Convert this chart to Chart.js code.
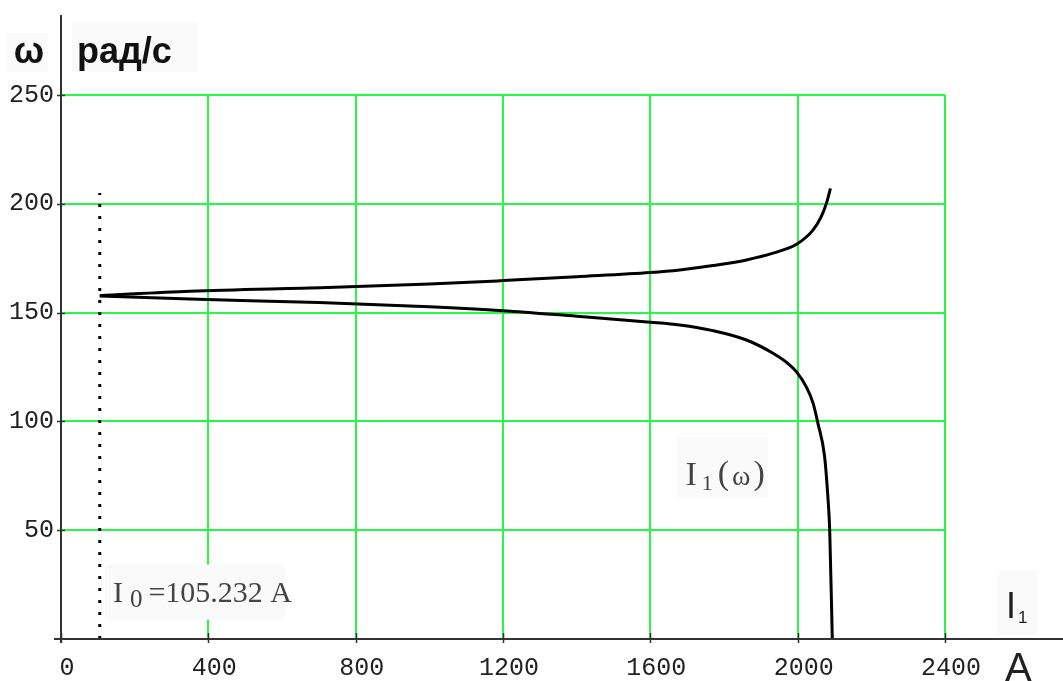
<!DOCTYPE html>
<html>
<head>
<meta charset="utf-8">
<script src="https://cdn.jsdelivr.net/npm/chart.js@4/dist/chart.umd.min.js"></script>
<style>
  html, body { margin: 0; padding: 0; background: #fff; }
  #wrap { width: 1063px; height: 681px; position: relative; }
</style>
</head>
<body>
<div id="wrap"><canvas id="chart"></canvas></div>
<script>
// no-load current, A
const I0 = 105.232;

// I1(ω): upper branch (generator side)
const upperI = [I0, 350, 720, 1000, 1200, 1400, 1600, 1680, 1770, 1861, 1933, 1998, 2042, 2064, 2078, 2089];
const upperW = [157.8, 159.8, 161.5, 163.1, 164.7, 166.5, 168.4, 169.6, 171.6, 174.2, 177.3, 181.5, 188, 194.1, 200.2, 207.1];

// I1(ω): lower branch (motor side)
const lowerI = [I0, 350, 700, 1000, 1200, 1400, 1600, 1680, 1770, 1861, 1933, 1978, 1998, 2023, 2042, 2055, 2073, 2082, 2087, 2094];
const lowerW = [157.6, 156.2, 154.6, 152.7, 150.9, 148.3, 145.6, 144.3, 141.7, 137.4, 131.3, 126, 122.5, 116, 108.3, 99.1, 84, 65.4, 50, 0];

// vertical marker at I0
const markerW = [0, 205];

const xTicks = [0, 400, 800, 1200, 1600, 2000, 2400];
const yTicks = [50, 100, 150, 200, 250];

const GRID = '#28f845';
const AXIS = '#333';
const BACK = '#fafafa';

const pts = (xs, ys) => xs.map((x, i) => ({ x: x, y: ys[i] }));

function drawRich(ctx, x, y, parts, color) {
    ctx.fillStyle = color;
    ctx.textAlign = 'left';
    ctx.textBaseline = 'alphabetic';
    for (const p of parts) {
        ctx.font = p.font;
        x += p.gap || 0;
        ctx.fillText(p.text, x, y + (p.dy || 0));
        x += ctx.measureText(p.text).width;
    }
}

// axes that run past the plot area, crossing tick marks and the text labels
const decor = {
    id: 'decor',
    afterDatasetsDraw(chart) {
        const ctx = chart.ctx;
        const xs = chart.scales.x, ys = chart.scales.y;
        const x0 = xs.getPixelForValue(0), y0 = ys.getPixelForValue(0);
        ctx.save();

        // label backdrops
        ctx.fillStyle = BACK;
        ctx.fillRect(7, 33, 41, 39);
        ctx.fillRect(72, 22, 125, 50);
        ctx.fillRect(997, 570, 40, 65);

        const ax = xs.getPixelForValue(141), ay = ys.getPixelForValue(17.2);
        ctx.fillRect(ax - 8, ay - 37, 180, 55);
        const bx = xs.getPixelForValue(1696), by = ys.getPixelForValue(70.8);
        ctx.fillRect(bx - 9, by - 48, 91, 61);

        // axes
        ctx.strokeStyle = AXIS;
        ctx.lineWidth = 2;
        ctx.beginPath();
        ctx.moveTo(x0 - 7, y0);
        ctx.lineTo(chart.width, y0);
        ctx.moveTo(x0, chart.chartArea.top - 80);
        ctx.lineTo(x0, y0 + 4);
        ctx.stroke();

        ctx.lineWidth = 1.5;
        ctx.beginPath();
        xTicks.forEach(v => {
            const p = Math.round(xs.getPixelForValue(v)) + 0.5;
            ctx.moveTo(p, y0 - 6);
            ctx.lineTo(p, y0 + 4);
        });
        yTicks.forEach(v => {
            const p = Math.round(ys.getPixelForValue(v)) + 0.5;
            ctx.moveTo(x0 - 4, p);
            ctx.lineTo(x0 + 4, p);
        });
        ctx.stroke();

        // axis titles
        ctx.fillStyle = '#111';
        ctx.textBaseline = 'alphabetic';
        ctx.textAlign = 'center';
        ctx.font = 'bold 36px "Liberation Sans"';
        ctx.fillText('ω', 29, 63);
        ctx.textAlign = 'left';
        ctx.fillText('рад/с', 77, 63);

        drawRich(ctx, 1006, 618, [
            { text: 'I', font: '36px "Liberation Sans"' },
            { text: '1', font: '17px "Liberation Sans"', dy: 5, gap: 2 }
        ], '#222');
        ctx.fillStyle = '#222';
        ctx.font = '40px "Liberation Sans"';
        ctx.fillText('A', 1005, 681);

        // curve annotations
        drawRich(ctx, ax, ay, [
            { text: 'I', font: '30px "Liberation Serif"' },
            { text: '0', font: '25px "Liberation Serif"', dy: 5, gap: 7 },
            { text: '=' + I0 + ' A', font: '30px "Liberation Serif"', gap: 6 }
        ], '#444');

        drawRich(ctx, bx, by, [
            { text: 'I', font: '33px "Liberation Serif"' },
            { text: '1', font: '22px "Liberation Serif"', dy: 5, gap: 5 },
            { text: '(', font: '34px "Liberation Serif"', dy: -1, gap: 5 },
            { text: 'ω', font: '28px "Liberation Serif"', gap: 3 },
            { text: ')', font: '34px "Liberation Serif"', dy: -1, gap: 3 }
        ], '#444');

        ctx.restore();
    }
};

const curve = {
    borderColor: '#000',
    borderWidth: 3,
    pointRadius: 0,
    fill: false,
    cubicInterpolationMode: 'monotone'
};

const tickFont = { family: 'Liberation Mono', size: 25 };

new Chart(document.getElementById('chart'), {
    type: 'line',
    data: {
        datasets: [
            Object.assign({ data: pts(upperI, upperW) }, curve),
            Object.assign({ data: pts(lowerI, lowerW) }, curve),
            {
                data: pts([I0, I0], markerW),
                borderColor: '#000',
                borderWidth: 3,
                borderDash: [3, 9],
                borderCapStyle: 'butt',
                pointRadius: 0,
                fill: false
            }
        ]
    },
    options: {
        responsive: true,
        maintainAspectRatio: false,
        animation: false,
        layout: { padding: { top: 95, right: 118, left: 0, bottom: 0 } },
        plugins: { legend: { display: false }, tooltip: { enabled: false } },
        scales: {
            x: {
                type: 'linear',
                min: 0,
                max: 2400,
                afterBuildTicks: s => { s.ticks = xTicks.map(v => ({ value: v })); },
                afterFit: s => { s.height = 42; },
                border: { display: false },
                grid: {
                    color: c => (c.tick && c.tick.value === 0) ? 'rgba(0,0,0,0)' : GRID,
                    lineWidth: 2,
                    drawTicks: false
                },
                ticks: {
                    font: tickFont,
                    color: '#222',
                    padding: 14,
                    labelOffset: 6,
                    maxRotation: 0,
                    autoSkip: false,
                    callback: v => String(v)
                }
            },
            y: {
                min: 0,
                max: 250,
                afterBuildTicks: s => { s.ticks = yTicks.map(v => ({ value: v })); },
                afterFit: s => { s.width = 61; },
                border: { display: false },
                grid: { color: GRID, lineWidth: 2, drawTicks: false },
                ticks: {
                    font: tickFont,
                    color: '#222',
                    padding: 7,
                    autoSkip: false,
                    callback: v => String(v)
                }
            }
        }
    },
    plugins: [decor]
});
</script>
</body>
</html>
